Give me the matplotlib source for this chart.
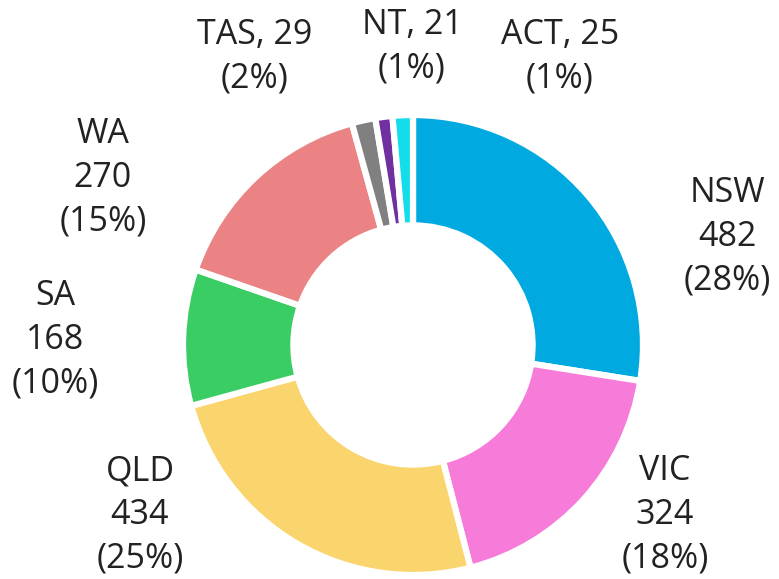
import matplotlib.pyplot as plt

# data
states = ["NSW", "VIC", "QLD", "SA", "WA", "TAS", "NT", "ACT"]
counts = [482, 324, 434, 168, 270, 29, 21, 25]
pcts = [28, 18, 25, 10, 15, 2, 1, 1]  # as shown on the chart (sums to 100)
colors = ["#00A9E0", "#F77BD9", "#FAD46C", "#3ACD63", "#EB8385", "#808080", "#7030A0", "#13DDEB"]

# label layout (pixel positions of label centres, y from top)
label_xy = [(727, 237), (665, 515), (140, 515), (55, 340), (103, 178),
            (255, 57), (412, 47), (560, 57)]
one_line = ["TAS", "NT", "ACT"]

W, H = 779, 579
fig = plt.figure(figsize=(W / 100, H / 100), dpi=100)
ax = fig.add_axes([0, 0, 1, 1])

cx, cy, r = 413, H - 345, 230
ax.pie(counts, colors=colors, startangle=90, counterclock=False,
       center=(cx, cy), radius=r, frame=True,
       wedgeprops=dict(width=r * 0.48, edgecolor="white", linewidth=4.5))
ax.set_xlim(0, W)
ax.set_ylim(0, H)
ax.set_aspect("equal")
ax.axis("off")

for s, c, p, (x, y) in zip(states, counts, pcts, label_xy):
    if s in one_line:
        txt = f"{s}, {c}\n({p}%)"
    else:
        txt = f"{s}\n{c}\n({p}%)"
    ax.text(x, H - y, txt, ha="center", va="center", fontsize=24.5,
            family="Open Sans", color="#222222", linespacing=1.38)

fig.savefig("out.png", dpi=100)
